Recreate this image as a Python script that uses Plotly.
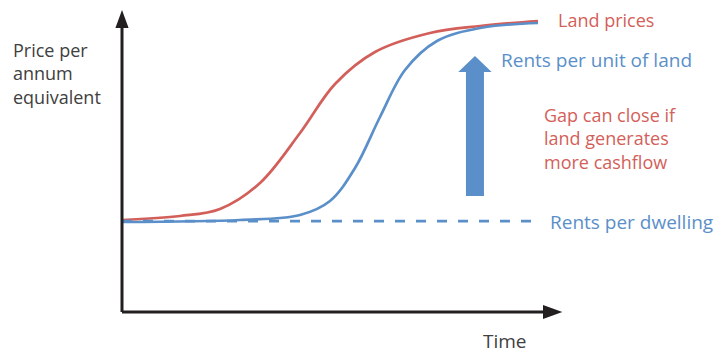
import plotly.graph_objects as go

# ---- data (time in % of horizon, price in % of axis height) ----
time_land = [0, 13.21, 22.32, 31.44, 40.55, 48.52, 57.63, 70.16, 81.55, 94.76]
land_prices = [30.46, 31.79, 34.11, 42.72, 59.27, 75.50, 86.09, 92.38, 94.70, 96.36]

time_rent = [0, 26.88, 40.55, 47.38, 53.08, 58.77, 64.46, 71.75, 81.55, 94.76]
rents_land = [29.80, 30.46, 32.12, 36.75, 47.68, 64.57, 80.13, 89.74, 94.04, 95.70]

time_dwelling = [0, 93.4]
rents_dwelling = [30.1, 30.1]

gap_x = 80.4
gap_bottom = 38.4
gap_top = 84.8

RED = "#d35f5a"
BLUE = "#5b8fc9"
AXIS = "#231f20"
TXT = "#404040"
FONT = "Open Sans"

fig = go.Figure()
fig.add_trace(go.Scatter(x=time_land, y=land_prices, mode="lines",
                         line=dict(color=RED, width=2.7, shape="spline", smoothing=1.0),
                         hoverinfo="skip"))
fig.add_trace(go.Scatter(x=time_rent, y=rents_land, mode="lines",
                         line=dict(color=BLUE, width=2.7, shape="spline", smoothing=1.0),
                         hoverinfo="skip"))
fig.add_trace(go.Scatter(x=time_dwelling, y=rents_dwelling, mode="lines",
                         line=dict(color=BLUE, width=2.6, dash="10px,11px"),
                         hoverinfo="skip"))

shapes = []
# axes
shapes.append(dict(type="line", x0=0, y0=0, x1=0, y1=95, line=dict(color=AXIS, width=3), layer="above"))
shapes.append(dict(type="line", x0=0, y0=0, x1=96.5, y1=0, line=dict(color=AXIS, width=3), layer="above"))
shapes.append(dict(type="path", path="M -1.5 94 L 0 100 L 1.5 94 Z", fillcolor=AXIS, line=dict(width=0)))
shapes.append(dict(type="path", path="M 95.9 -2.3 L 100.3 0 L 95.9 2.3 Z", fillcolor=AXIS, line=dict(width=0)))
# gap arrow
hw_shaft = 2.05
hw_head = 3.8
head_base = 79.5
shapes.append(dict(type="path",
                   path=(f"M {gap_x-hw_shaft} {gap_bottom} L {gap_x+hw_shaft} {gap_bottom} "
                         f"L {gap_x+hw_shaft} {head_base} L {gap_x+hw_head} {head_base} "
                         f"L {gap_x} {gap_top} L {gap_x-hw_head} {head_base} "
                         f"L {gap_x-hw_shaft} {head_base} Z"),
                   fillcolor=BLUE, line=dict(width=0)))


def label(x, y, text, color, size=19, anchor="left"):
    return dict(x=x, y=y, text=text, font=dict(color=color, size=size, family=FONT),
                xanchor=anchor, yanchor="middle", align="left", showarrow=False)


annotations = [
    label(98.8, 96.7, "Land prices", RED, 18),
    label(85.8, 83.4, "Rents per unit of land", BLUE),
    label(95.6, 57.38, "Gap can close if<br>land generates<br>more cashflow", RED, 18),
    label(97.0, 29.8, "Rents per dwelling", BLUE),
    label(-25.3, 78.97, "Price per<br>annum<br>equivalent", TXT, 18),
    label(87.2, -9.6, "Time", TXT, 19, "center"),
]

fig.update_layout(
    width=727, height=353,
    margin=dict(l=0, r=0, t=0, b=0),
    paper_bgcolor="white", plot_bgcolor="white",
    showlegend=False,
    xaxis=dict(range=[-27.79, 137.81], visible=False, fixedrange=True),
    yaxis=dict(range=[-13.58, 103.31], visible=False, fixedrange=True),
    shapes=shapes,
    annotations=annotations,
)

fig.write_html("out.html")
